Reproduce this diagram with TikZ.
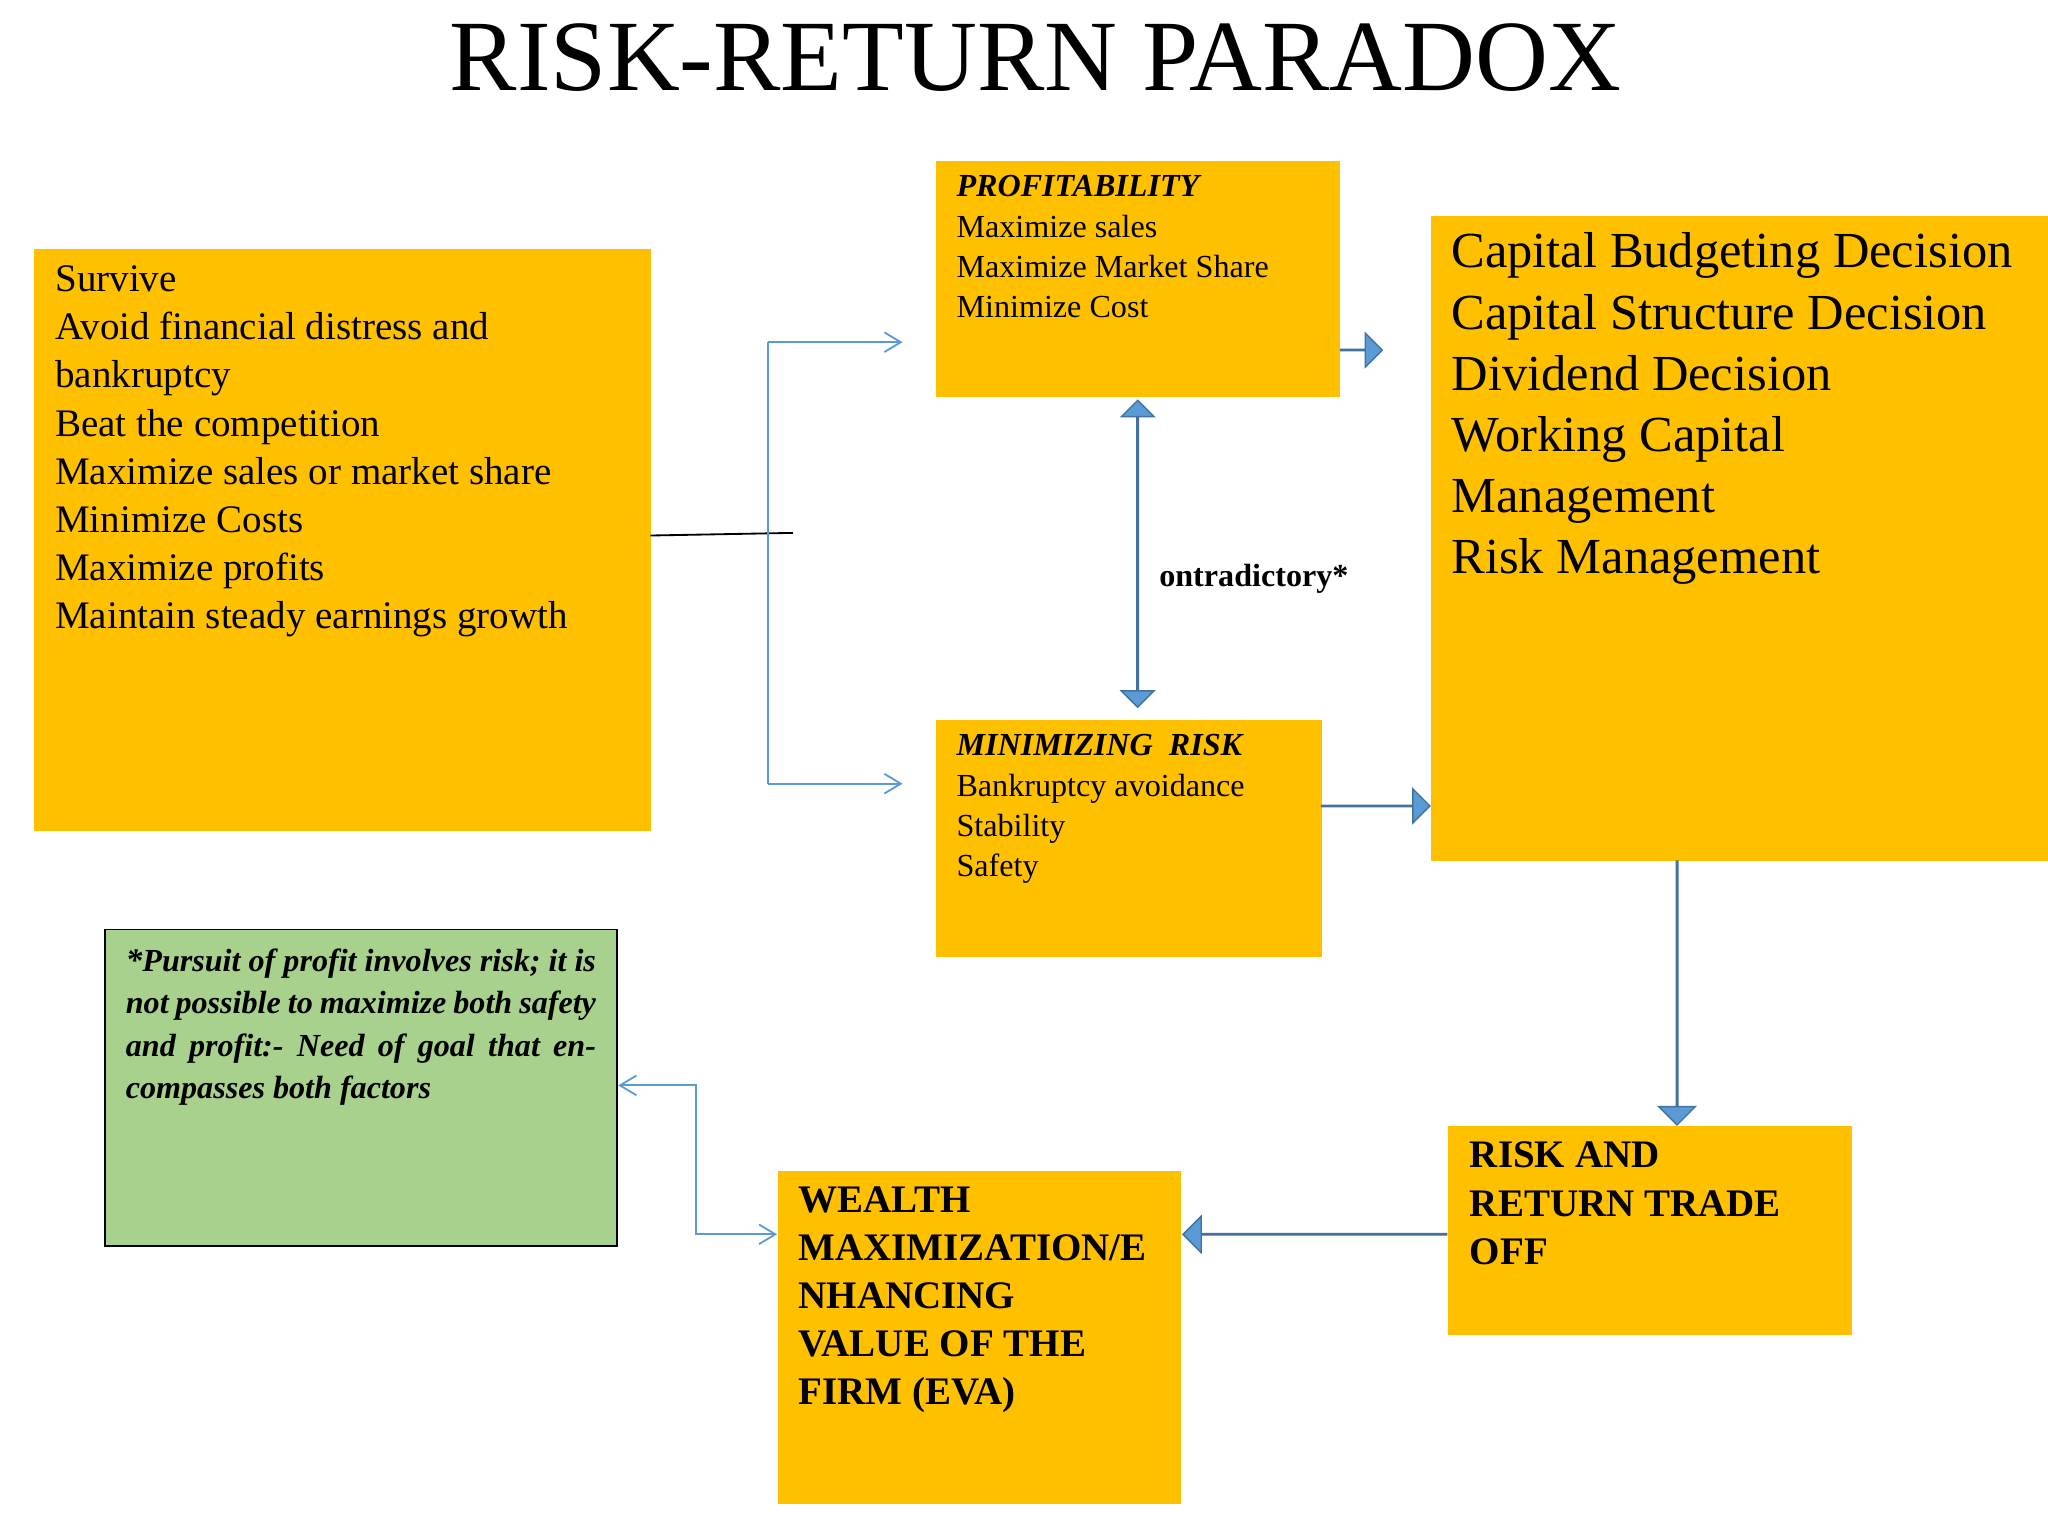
\documentclass[tikz,border=0pt]{standalone}
\usepackage{fontspec}
\setmainfont{Liberation Serif}
\usetikzlibrary{positioning, shapes.arrows, arrows.meta}
\definecolor{boxorange}{RGB}{255,192,0}
\definecolor{boxgreen}{RGB}{169,209,142}
\definecolor{arrblue}{RGB}{91,155,213}
\definecolor{arrline}{RGB}{65,113,156}
\begin{document}
\begin{tikzpicture}[x=0.02cm, y=-0.02cm,
      box/.style={fill=boxorange, draw=none, inner sep=0pt, anchor=north west},
      txt/.style={anchor=north west, align=left, inner sep=0pt},
      thin/.style={draw=arrblue, line width=0.8pt, -{Straight Barb[length=2.5mm, width=3mm]}},
      fat/.style={single arrow, fill=arrblue, draw=arrline, line width=0.6pt, inner sep=0pt, single arrow head extend=0.25cm, single arrow tip angle=90},
      fatboth/.style={double arrow, fill=arrblue, draw=arrline, line width=0.6pt, inner sep=0pt, double arrow head extend=0.2cm}]
    \useasboundingbox (0,0) rectangle (1568,1176);
    \node (title) at (793,44) {\fontsize{44}{50}\selectfont RISK-RETURN PARADOX};
    % boxes
    \node[box, minimum width=9.44cm, minimum height=8.92cm] (goals) at (26,190) {};
    \node[box, minimum width=6.2cm, minimum height=3.62cm] (profit) at (716,123) {};
    \node[box, minimum width=9.46cm, minimum height=9.88cm] (decis) at (1095,165) {};
    \node[box, minimum width=5.92cm, minimum height=3.62cm] (risk) at (716,551) {};
    \node[box, minimum width=6.2cm, minimum height=3.2cm] (trade) at (1108,862) {};
    \node[box, minimum width=6.18cm, minimum height=5.1cm] (wealth) at (595,896) {};
    \node[anchor=north west, fill=boxgreen, draw=black, line width=0.8pt, minimum width=7.84cm, minimum height=4.84cm, inner sep=0pt] (note) at (80,711) {};
    % texts
    \node[txt, font=\fontsize{17}{21}\selectfont] at (42,203) {Survive\\Avoid financial distress and\\bankruptcy\\Beat the competition\\Maximize sales or market share\\Minimize Costs\\Maximize profits\\Maintain steady earnings growth};
    \node[txt, font=\fontsize{14}{17.6}\selectfont] at (732,134) {\textbf{\textit{PROFITABILITY}}\\Maximize sales\\Maximize Market Share\\Minimize Cost};
    \node[txt, font=\fontsize{14}{17.6}\selectfont] at (732,562) {\textbf{\textit{MINIMIZING\ \ RISK}}\\Bankruptcy avoidance\\Stability\\Safety};
    \node[txt, font=\fontsize{22}{26.6}\selectfont] at (1111,178) {Capital Budgeting Decision\\Capital Structure Decision\\Dividend Decision\\Working Capital\\Management\\Risk Management};
    \node[txt, font=\fontsize{17}{21}\selectfont\bfseries] at (1125,874) {RISK AND\\RETURN TRADE\\OFF};
    \node[txt, font=\fontsize{17}{21}\selectfont\bfseries] at (611,908) {WEALTH\\MAXIMIZATION/E\\NHANCING\\VALUE OF THE\\FIRM (EVA)};
    \node[anchor=north west, inner sep=0pt, text width=7.2cm, align=justify, font=\fontsize{14}{18.5}\selectfont\bfseries\itshape] at (96,726) {{\Large *}Pursuit of profit involves risk; it is not possible to maximize both safety and profit:- Need of goal that encompasses both factors};
    \node[font=\fontsize{14}{17}\selectfont\bfseries] (contra) at (960,443) {ontradictory*};
    % thin connectors
    \coordinate (gout) at (607,408);
    \coordinate (bt) at (588,262);
    \coordinate (bb) at (588,600);
    \coordinate (pin) at (691,262);
    \coordinate (rin) at (691,600);
    \draw[line width=0.8pt] (498,410) -- (gout);
    \draw[thin] (bt) -- (pin);
    \draw[arrblue, line width=0.8pt] (bt) -- (bb);
    \draw[thin] (bb) -- (rin);
    \draw[thin, {Straight Barb[length=2.5mm, width=3mm]}-{Straight Barb[length=2.5mm, width=3mm]}] (note.east |- 0,831) -- (533,831) -- (533,945) -- (wealth.west |- 0,945);
    % block arrows
    \node[fat, minimum height=0.64cm, minimum width=0.45cm] (a1) at (1042,268) {};
    \node[fat, minimum height=1.66cm, minimum width=0.5cm] (a2) at (1053,617) {};
    \node[fatboth, rotate=90, minimum height=4.7cm, minimum width=0.5cm] (a3) at (871,424) {};
    \node[fat, rotate=-90, minimum height=4.04cm, minimum width=0.56cm] (a4) at (1284,760) {};
    \node[fat, rotate=180, minimum height=4.04cm, minimum width=0.56cm] (a5) at (1007,945) {};
\end{tikzpicture}
\end{document}
